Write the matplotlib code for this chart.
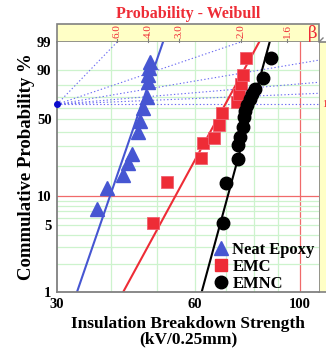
import numpy as np
import matplotlib
matplotlib.use("Agg")
import matplotlib.pyplot as plt
from matplotlib.patches import Rectangle
from matplotlib.lines import Line2D

# ---------------- data ----------------
neat_x = [37.3, 39.2, 42.5, 43.5, 44.3, 45.7, 46.0, 46.8, 47.6, 47.9, 47.9, 48.2, 48.3]
neat_f = [7.4, 12.1, 16.2, 21.1, 25.6, 39.8, 48.5, 59.9, 69.8, 82.2, 87.1, 91.2, 94.0]

emc_x = [49.0, 52.5, 61.9, 62.5, 65.9, 67.5, 68.5, 73.7, 74.4, 75.1, 75.9, 77.0]
emc_f = [5.3, 13.8, 23.5, 32.1, 35.5, 45.2, 55.4, 65.3, 72.4, 80.7, 87.1, 95.5]

emnc_x = [68.7, 69.9, 73.9, 74.2, 74.8, 75.7, 76.2, 76.6, 77.3, 78.5, 79.2, 80.4, 83.7, 86.8]
emnc_f = [5.3, 13.4, 22.9, 30.8, 36.4, 43.9, 51.9, 57.2, 62.6, 68.0, 72.4, 76.7, 84.9, 95.4]

# Weibull fit parameters (beta, eta)
neat_fit = (14.7, 46.4)
emc_fit = (9.3, 69.6)
emnc_fit = (18.6, 79.5)

series_names = ["Neat Epoxy", "EMC", "EMNC"]

x_ticks = [30.8, 60, 100]
x_tick_labels = ["30", "60", "100"]
y_ticks = [1, 5, 10, 50, 90, 99]
y_tick_labels = ["1", "5", "10", "50", "90", "99"]
x_grid = [40, 50, 60, 70, 80, 90]
x_red = [100]
y_grid = [2, 3, 4, 5, 6, 7, 8, 9, 20, 30, 40, 50, 60, 70, 80, 90]
y_red = [10]

beta_scale = [6.0, 4.0, 3.0, 2.0, 1.6]
beta_labels = ["6.0", "4.0", "3.0", "2.0", "1.6"]
beta_guides = [6.0, 2.0, 1.0, 0.5, 0.25, 0.0]

x_lim = (30.8, 109.6)
f_lim = (1, 99)

# ---------------- style ----------------
BLUE = "#4656D2"
RED = "#EE2C36"
BLACK = "#000000"
GRID_G = "#CDF3CD"
GRID_R = "#F06A6A"
YEL = "#FFFFC6"
GRAY = "#808080"
SERIF = ["Liberation Serif", "DejaVu Serif"]

plt.rcParams["font.family"] = SERIF
plt.rcParams["font.weight"] = "bold"


def fwd(p):
    p = np.clip(np.asarray(p, dtype=float), 1e-9, 100 - 1e-9)
    return np.log(-np.log(1 - p / 100.0))


def inv(t):
    t = np.asarray(t, dtype=float)
    return 100.0 * (1 - np.exp(-np.exp(t)))


W, H = 326, 349
fig = plt.figure(figsize=(W / 100, H / 100), dpi=100)
L, R, T, B = 57, 319, 42, 292
ax = fig.add_axes([L / W, 1 - B / H, (R - L) / W, (B - T) / H])
ax.set_xscale("log")
ax.set_yscale("function", functions=(fwd, inv))
ax.set_xlim(*x_lim)
ax.set_ylim(*f_lim)

# grid
for v in x_grid:
    ax.axvline(v, color=GRID_G, lw=0.9, zorder=0)
for v in x_red:
    ax.axvline(v, color=GRID_R, lw=0.9, zorder=0)
for v in y_grid:
    ax.axhline(v, color=GRID_G, lw=0.9, zorder=0)
for v in y_red:
    ax.axhline(v, color=GRID_R, lw=0.9, zorder=0)

# beta guide lines from the pivot point (63.2%)
BETA_K = 1.416
BETA_D = 0.0065
t_lo, t_hi = fwd(f_lim[0]), fwd(f_lim[1])
yp = (0 - t_lo) / (t_hi - t_lo)
for b in beta_guides:
    if b == 0:
        xe, ye = 1.0, yp
    else:
        xe, ye = BETA_K / b - BETA_D, 1.0
    ax.plot([0, xe], [yp, ye], transform=ax.transAxes, color="#6A6AF2",
            lw=0.8, ls=(0, (1.2, 2.0)), zorder=1)
ax.plot([0], [yp], transform=ax.transAxes, marker="o", ms=4, color="#0A0ACC",
        clip_on=False, zorder=5)

# fitted lines
fgrid = np.array([f_lim[0], f_lim[1]], dtype=float)
for (beta, eta), col in zip([neat_fit, emc_fit, emnc_fit], [BLUE, RED, BLACK]):
    xl = eta * (-np.log(1 - fgrid / 100)) ** (1 / beta)
    ax.plot(xl, fgrid, color=col, lw=1.5, zorder=2)

# points
ax.plot(neat_x, neat_f, ls="none", marker="^", ms=10, color=BLUE, zorder=3)
ax.plot(emc_x, emc_f, ls="none", marker="s", ms=8, color=RED,
        markeredgecolor="#F06070", mew=0.6, zorder=3)
ax.plot(emnc_x, emnc_f, ls="none", marker="o", ms=9, color=BLACK, zorder=3)

# axes ticks
ax.set_xticks(x_ticks)
ax.set_xticklabels(x_tick_labels)
ax.xaxis.set_minor_locator(matplotlib.ticker.NullLocator())
ax.set_yticks(y_ticks)
ax.set_yticklabels(y_tick_labels)
ax.yaxis.set_minor_locator(matplotlib.ticker.NullLocator())
ax.tick_params(length=0, labelsize=10.5, pad=4)
for lab in ax.get_xticklabels() + ax.get_yticklabels():
    lab.set_fontweight("bold")

for s in ["top", "right"]:
    ax.spines[s].set_visible(False)
for s in ["left", "bottom"]:
    ax.spines[s].set_color(GRAY)
    ax.spines[s].set_linewidth(1.3)

ax.set_xlabel("Insulation Breakdown Strength\n(kV/0.25mm)", fontsize=12.5,
              fontweight="bold", linespacing=0.95, labelpad=4)
ax.set_ylabel("Commulative Probability %", fontsize=13.5, fontweight="bold",
              labelpad=1)

# legend
handles = [
    Line2D([], [], ls="none", marker="^", ms=10, color=BLUE),
    Line2D([], [], ls="none", marker="s", ms=8, color=RED),
    Line2D([], [], ls="none", marker="o", ms=9, color=BLACK),
]
leg = ax.legend(handles, series_names, loc="lower left", bbox_to_anchor=(0.555, -0.045),
                frameon=False, fontsize=12, handlelength=0.8, handletextpad=0.3,
                labelspacing=0.05, borderpad=0.2)
for t in leg.get_texts():
    t.set_fontweight("bold")

# top beta band and side band
band = Rectangle((L / W, 1 - T / H), (R - L) / W, 18 / H, transform=fig.transFigure,
                 facecolor=YEL, edgecolor=GRAY, lw=1.2, zorder=-2)
fig.patches.append(band)
side = Rectangle((R / W, 1 - B / H), (W - R + 2) / W, (B - T) / H, transform=fig.transFigure,
                 facecolor=YEL, edgecolor=GRAY, lw=1.2, zorder=-2)
fig.patches.append(side)
fig.add_artist(Line2D([R / W, (R + 4) / W], [1 - T / H, 1 - (T - 4) / H],
                      transform=fig.transFigure, color=GRAY, lw=1))

for b, lab in zip(beta_scale, beta_labels):
    xf = BETA_K / b - BETA_D
    ax.text(xf, 1.0 + 3.5 / (B - T), lab, transform=ax.transAxes, rotation=90,
            ha="center", va="bottom", color=RED, fontsize=8, fontweight="normal",
            zorder=10)
    ax.plot([xf, xf], [1.0, 1.0 + 3 / (B - T)], transform=ax.transAxes,
            color=GRAY, lw=0.8, clip_on=False, zorder=10)
fig.text((R - 1) / W, 1 - 33 / H, "β", color=RED, fontsize=12, ha="right",
         va="center", fontweight="normal", family=["DejaVu Serif"])
fig.text((R + 3) / W, 1 - 104 / H, "1", color=RED, fontsize=7, ha="left",
         va="center", fontweight="normal")

fig.text((L + R) / 2 / W, 1 - 14 / H, "Probability - Weibull", color=RED,
         fontsize=11.5, fontweight="bold", ha="center", va="center")

fig.savefig("out.png", dpi=100)
